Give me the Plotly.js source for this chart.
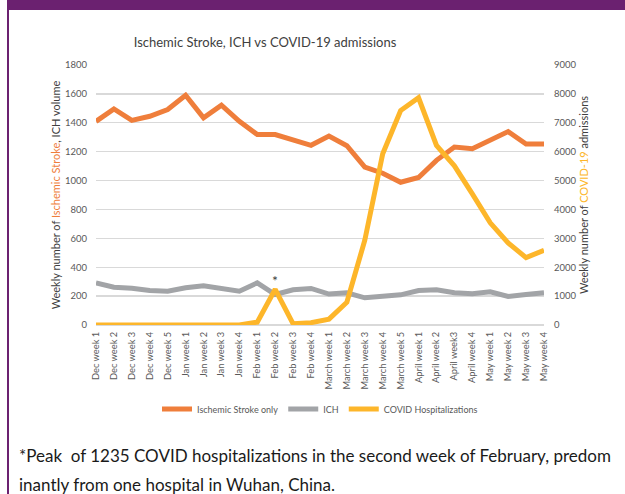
<!DOCTYPE html>
<html>
<head>
<meta charset="utf-8">
<script src="https://cdn.plot.ly/plotly-3.0.1.min.js"></script>
<style>
html,body{margin:0;padding:0;background:#fff;overflow:hidden;}
#wrap{position:relative;width:625px;height:494px;}
#chart{position:absolute;left:0;top:0;width:625px;height:494px;}
#topband{position:absolute;left:7px;top:0;width:618px;height:10px;background:#6B2170;z-index:5;}
#leftband{position:absolute;left:7px;top:0;width:2px;height:494px;background:#6B2170;z-index:5;}
</style>
</head>
<body>
<div id="wrap">
<div id="chart"></div>
<div id="topband"></div>
<div id="leftband"></div>
</div>
<script>
var weeks = ["Dec week 1","Dec week 2","Dec week 3","Dec week 4","Dec week 5",
  "Jan week 1","Jan week 2","Jan week 3","Jan week 4",
  "Feb week 1","Feb week 2","Feb week 3","Feb week 4",
  "March week 1","March week 2","March week 3","March week 4","March week 5",
  "April week 1","April week 2","April week3","April week 4",
  "May week 1","May week 2","May week 3","May week 4"];
var ischemic = [1410,1496,1417,1445,1492,1591,1434,1522,1410,1318,1318,1283,1244,1308,1241,1093,1051,988,1021,1140,1232,1220,1283,1339,1253,1253];
var ich = [292,262,255,239,234,258,271,255,234,292,211,244,253,214,223,188,200,209,239,244,223,216,230,197,211,223];
var covid = [0,0,0,0,0,0,0,0,0,100,1235,40,80,205,789,2935,5928,7424,7865,6218,5510,4536,3538,2842,2332,2587];
var leftTicks = [0,200,400,600,800,1000,1200,1400,1600,1800];
var rightTicks = [0,1000,2000,3000,4000,5000,6000,7000,8000,9000];
var footLine1 = "*Peak&nbsp;&nbsp;of 1235 COVID hospitalizations in the second week of February, predom";
var footLine2 = "inantly from one hospital in Wuhan, China.";

var cOrange = "#EF7E3B", cGrey = "#A2A4A7", cGold = "#FDB62A";
var W = 625, H = 494, ML = 96, MR = 81, MT = 65, MB = 169;
var PW = W - ML - MR, PH = H - MT - MB;
function px2x(px){ return (px - ML) / PW; }
function py2y(py){ return (MT + PH - py) / PH; }

var traces = [
  {x: weeks, y: ischemic, name: "Ischemic Stroke only", type: "scatter", mode: "lines",
   line: {color: cOrange, width: 5}, yaxis: "y"},
  {x: weeks, y: ich, name: "ICH", type: "scatter", mode: "lines",
   line: {color: cGrey, width: 5}, yaxis: "y"},
  {x: weeks, y: covid, name: "COVID Hospitalizations", type: "scatter", mode: "lines",
   line: {color: cGold, width: 5}, yaxis: "y2"}
];

var fam = "Lato, 'Open Sans', sans-serif";
var tickFont = {family: fam, size: 9.5, color: "#595959"};

var layout = {
  width: W, height: H,
  margin: {l: ML, r: MR, t: MT, b: MB, pad: 0},
  paper_bgcolor: "#ffffff", plot_bgcolor: "#ffffff",
  font: {family: fam, color: "#595959"},
  title: {text: "Ischemic Stroke, ICH vs COVID-19 admissions", x: 265/W, xref: "container", xanchor: "center",
          y: 1 - 42/H, yref: "container", yanchor: "middle",
          font: {family: fam, size: 13, color: "#404040"}},
  showlegend: true,
  legend: {orientation: "h", x: 0.5, xanchor: "center", xref: "paper",
           y: 1 - 409/H, yref: "container", yanchor: "middle",
           font: {family: fam, size: 9, color: "#595959"},
           itemwidth: 30, tracegroupgap: 0},
  xaxis: {type: "category", tickangle: -90, tickfont: {family: fam, size: 9.3, color: "#595959"},
          showgrid: false, zeroline: false,
          showline: false, ticks: "", ticklabelstandoff: 4, fixedrange: true},
  yaxis: {range: [0, 1800], tickvals: leftTicks, ticktext: leftTicks.map(String), tickfont: tickFont,
          showgrid: true, gridcolor: "#D9D9D9", gridwidth: 1.3, zeroline: true, zerolinecolor: "#D9D9D9",
          zerolinewidth: 1.3, showline: false, ticks: "", ticklabelstandoff: 8,
          title: {text: "Weekly number of <span style=\"color:" + cOrange + "\">Ischemic Stroke</span>, ICH volume",
                  font: {family: fam, size: 11, color: "#404040"}, standoff: 2}},
  yaxis2: {range: [0, 9000], tickvals: rightTicks, ticktext: rightTicks.map(String), tickfont: tickFont,
           overlaying: "y", side: "right", showgrid: false, zeroline: false, showline: false, ticks: "",
           ticklabelstandoff: 9,
           title: {text: "Weekly number of <span style=\"color:" + cGold + "\">COVID-19</span> admissions",
                   font: {family: fam, size: 11, color: "#404040"}, standoff: 2}},
  annotations: [
    {x: "Feb week 2", y: covid[10], xref: "x", yref: "y2", text: "*", showarrow: false,
     yshift: 9, font: {family: fam, size: 14, color: "#404040"}},
    {x: px2x(17), y: py2y(455), xref: "paper", yref: "paper", xanchor: "left", yanchor: "middle",
     text: footLine1, showarrow: false, align: "left",
     font: {family: fam, size: 17, color: "#1a1a1a"}},
    {x: px2x(17), y: py2y(484), xref: "paper", yref: "paper", xanchor: "left", yanchor: "middle",
     text: footLine2, showarrow: false, align: "left",
     font: {family: fam, size: 17, color: "#1a1a1a"}}
  ]
};

Plotly.newPlot("chart", traces, layout, {displayModeBar: false, staticPlot: true});
</script>
</body>
</html>
